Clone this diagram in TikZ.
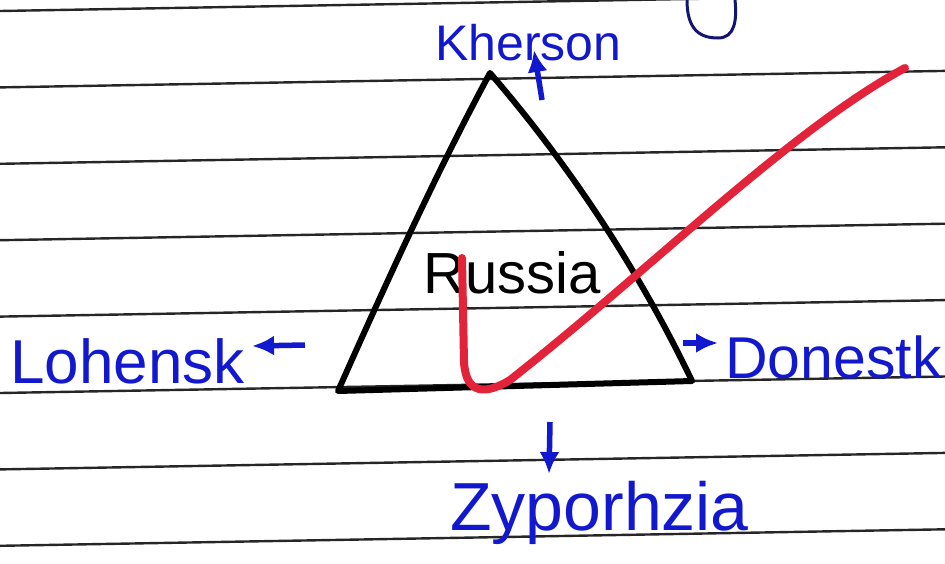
\documentclass[tikz,border=0pt]{standalone}
\usepackage{fontspec}
\setmainfont{Liberation Sans}
\usetikzlibrary{arrows.meta}
\definecolor{inkblue}{RGB}{18,24,205}
\definecolor{navyink}{RGB}{20,22,110}
\definecolor{checkred}{RGB}{226,35,58}

\begin{document}
\begin{tikzpicture}[
  x=1pt, y=-1pt,
  rule/.style={black!85, line width=2.4pt},
  pen/.style={black, line width=6pt, line join=round, line cap=round},
  place/.style={inkblue, anchor=base west, inner sep=0pt},
  arrow/.style={-{Latex[length=22pt,width=20pt]}, inkblue, line width=5.5pt},
  tick/.style={checkred, line width=8pt, line cap=round, line join=round}
]
\useasboundingbox (0,0) rectangle (945,563);

% ruled paper
\foreach \k in {0,...,7}
  \draw[rule] (0,{11+76.4*\k}) -- (945,{-5.5+76.4*\k});

% triangle
\coordinate (apex) at (490,73);
\coordinate (bl) at (338,391);
\coordinate (br) at (692,381);
\draw[pen] (bl) .. controls (383,290) and (435,175) .. (apex)
  .. controls (567,162) and (638,268) .. (br) -- cycle;
\node[anchor=base west, inner sep=0pt, font=\fontsize{58}{58}\selectfont] (russia) at (423,293) {Russia};

% labels
\node[place, font=\fontsize{50}{50}\selectfont] (kherson) at (435,60) {Kherson};
\node[place, font=\fontsize{62}{62}\selectfont] (lohensk) at (10,383) {Lohensk};
\node[place, font=\fontsize{59}{59}\selectfont] (donestk) at (725,378) {Donestk};
\node[place, font=\fontsize{68}{68}\selectfont] (zyporhzia) at (450,530) {Zyporhzia};

% arrows
\coordinate (khertail) at (542,100);
\coordinate (kherhead) at (534,50);
\coordinate (lohtail) at (305,345);
\coordinate (lohhead) at (252,346);
\coordinate (dontail) at (683,343);
\coordinate (donhead) at (718,343);
\coordinate (zyptail) at (550,422);
\coordinate (zyphead) at (549,474);
\draw[arrow] (khertail) -- (kherhead);
\draw[arrow] (lohtail) -- (lohhead);
\draw[arrow] (dontail) -- (donhead);
\draw[arrow] (zyptail) -- (zyphead);

% stray pen mark at the top
\draw[navyink, line width=3pt, line cap=round] (687,0) .. controls (687,30) and (700,38) .. (718,38)
  .. controls (735,38) and (737,20) .. (735,0);

% red tick
\draw[tick] (462,258) -- (464,362) .. controls (466,396) and (487,394) .. (510,380)
  .. controls (650,270) and (790,130) .. (905,68);
\end{tikzpicture}
\end{document}
